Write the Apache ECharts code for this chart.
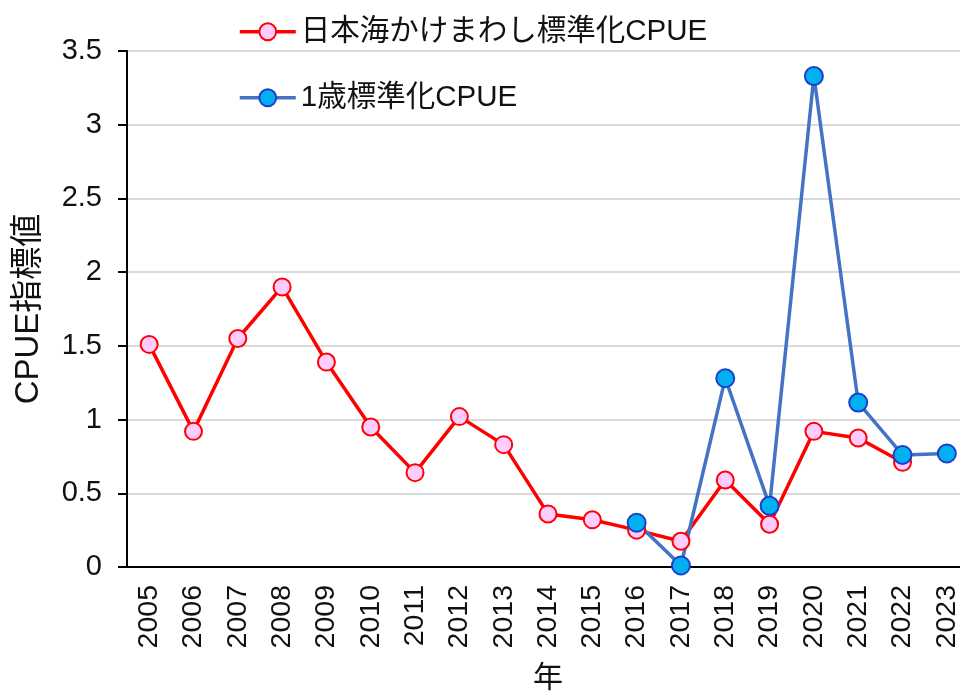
<!DOCTYPE html>
<html>
<head>
<meta charset="utf-8">
<script src="https://cdn.jsdelivr.net/npm/echarts@6/dist/echarts.min.js"></script>
<style>
    html, body { margin: 0; padding: 0; background: #fff; }
    #main { width: 960px; height: 697px; }
</style>
</head>
<body>
<div id="main"></div>
<script>
// 年
var years = ['2005', '2006', '2007', '2008', '2009', '2010', '2011', '2012', '2013', '2014',
    '2015', '2016', '2017', '2018', '2019', '2020', '2021', '2022', '2023'];
// 日本海かけまわし標準化CPUE
var kakeVals = [1.51, 0.92, 1.55, 1.90, 1.39, 0.95, 0.64, 1.02, 0.83, 0.36,
    0.32, 0.25, 0.175, 0.59, 0.29, 0.92, 0.875, 0.71, null];
// 1歳標準化CPUE
var age1Vals = [null, null, null, null, null, null, null, null, null, null,
    null, 0.30, 0.01, 1.28, 0.415, 3.33, 1.115, 0.76, 0.77];
var seriesNames = ['日本海かけまわし標準化CPUE', '1歳標準化CPUE'];
var yTicks = { min: 0, max: 3.5, interval: 0.5 };

var font = "'Liberation Sans', 'Noto Sans CJK JP', sans-serif";
var chart = echarts.init(document.getElementById('main'));

// 凡例は1行ずつ別に置く
function legendBox(name, top, lineColor, fill, border) {
    return {
        data: [name],
        left: 233,
        top: top,
        itemWidth: 56,
        itemHeight: 21,
        lineStyle: { color: lineColor, width: 3.5 },
        itemStyle: { color: fill, borderColor: border, borderWidth: 2 },
        textStyle: { fontSize: 29.5, color: '#111', fontFamily: font }
    };
}

var option = {
    animation: false,
    backgroundColor: '#fff',
    textStyle: { fontFamily: font },
    legend: [
        legendBox(seriesNames[0], 12, '#ff0000', '#ffccff', '#ff0000'),
        legendBox(seriesNames[1], 78, '#4472c4', '#00b0f0', '#1f3fc8')
    ],
    grid: { left: 127, right: -9, top: 51, bottom: 130, outerBoundsMode: 'none', containLabel: false },
    xAxis: {
        type: 'category',
        data: years,
        boundaryGap: true,
        name: '年',
        nameLocation: 'middle',
        nameGap: 97,
        nameTextStyle: { fontSize: 30, color: '#111', fontFamily: font },
        axisLine: { lineStyle: { color: '#000', width: 2 } },
        axisTick: { length: 9, interval: 0, lineStyle: { color: '#000', width: 2 } },
        axisLabel: { rotate: 90, interval: 0, margin: 18, fontSize: 28.5, color: '#111', fontFamily: font }
    },
    yAxis: {
        type: 'value',
        min: yTicks.min,
        max: yTicks.max,
        interval: yTicks.interval,
        name: 'CPUE指標値',
        nameLocation: 'middle',
        nameRotate: 90,
        nameGap: 82,
        nameTextStyle: { fontSize: 33, color: '#111', fontFamily: font },
        axisLine: { show: true, lineStyle: { color: '#000', width: 2 } },
        axisTick: { show: true, length: 9, lineStyle: { color: '#000', width: 2 } },
        axisLabel: { margin: 25, fontSize: 29, color: '#111', fontFamily: font },
        splitLine: { lineStyle: { color: '#d9d9d9', width: 2 } }
    },
    series: [
        {
            name: seriesNames[0],
            type: 'line',
            data: kakeVals,
            symbol: 'circle',
            symbolSize: 17,
            lineStyle: { color: '#ff0000', width: 3.5 },
            itemStyle: { color: '#ffccff', borderColor: '#ff0000', borderWidth: 2 }
        },
        {
            name: seriesNames[1],
            type: 'line',
            data: age1Vals,
            symbol: 'circle',
            symbolSize: 18,
            lineStyle: { color: '#4472c4', width: 3.5 },
            itemStyle: { color: '#00b0f0', borderColor: '#1f3fc8', borderWidth: 2 }
        }
    ]
};
chart.setOption(option);
</script>
</body>
</html>
